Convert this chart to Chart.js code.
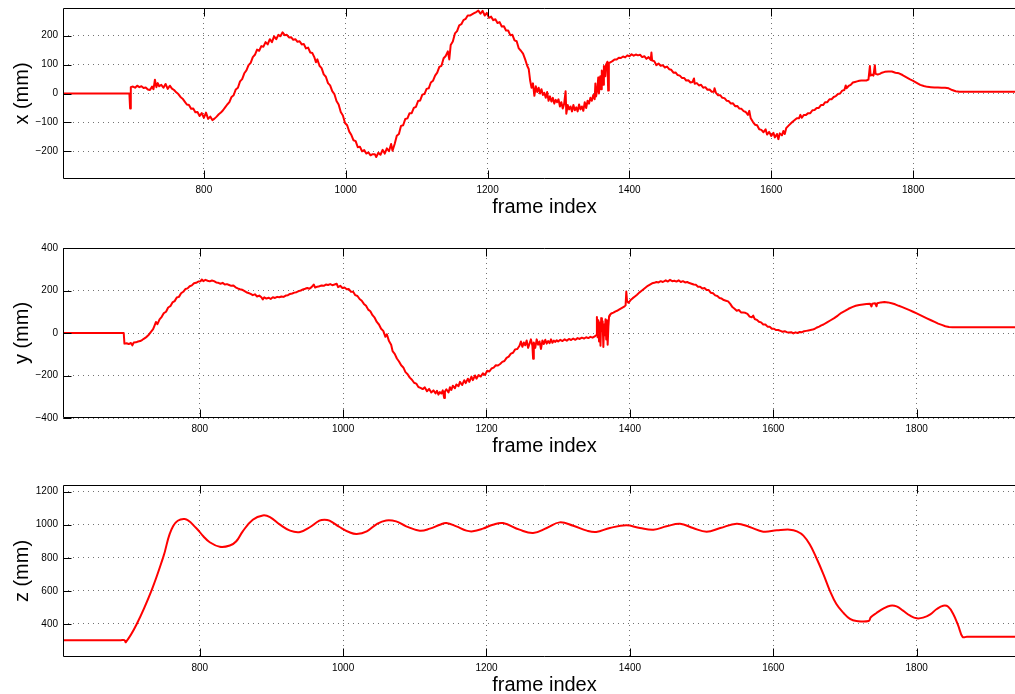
<!DOCTYPE html>
<html>
<head>
<meta charset="utf-8">
<script src="https://cdn.jsdelivr.net/npm/chart.js@4/dist/chart.umd.min.js"></script>
<style>
  html, body { margin: 0; padding: 0; background: #fff; overflow: hidden; width: 1015px; height: 694px; position: relative; }
  canvas { position: absolute; left: 0; }
</style>
</head>
<body>
<canvas id="panelX" width="1030" height="225" style="top:0px;width:1030px;height:225px"></canvas>
<canvas id="panelY" width="1030" height="224" style="top:240px;width:1030px;height:224px"></canvas>
<canvas id="panelZ" width="1030" height="220" style="top:477px;width:1030px;height:220px"></canvas>
<script>
// ---- tick labels ----
const frameTicks = [800, 1000, 1200, 1400, 1600, 1800];
const xTicks = [-200, -100, 0, 100, 200];
const yTicks = [-400, -200, 0, 200, 400];
const zTicks = [400, 600, 800, 1000, 1200];

// ---- x position (mm) per frame ----
const xFrames = [
  601, 695, 696, 697, 700, 703, 706, 709, 712, 715,
  718, 721, 724, 727, 729, 731, 733, 735, 737, 740,
  743, 746, 749, 752, 755, 758, 761, 764, 767, 770,
  773, 776, 779, 782, 785, 788, 791, 794, 797, 800,
  803, 806, 809, 812, 815, 818, 821, 824, 827, 830,
  833, 836, 839, 842, 845, 848, 851, 854, 857, 860,
  863, 866, 869, 872, 875, 878, 881, 884, 887, 890,
  893, 896, 899, 902, 905, 908, 911, 914, 917, 920,
  923, 926, 929, 932, 935, 938, 941, 944, 947, 950,
  953, 956, 958, 960, 963, 966, 969, 972, 975, 978,
  981, 984, 987, 990, 993, 996, 999, 1002, 1005, 1008,
  1011, 1014, 1017, 1020, 1023, 1026, 1029, 1032, 1035, 1038,
  1041, 1043, 1046, 1049, 1052, 1055, 1058, 1061, 1064, 1066,
  1069, 1072, 1075, 1078, 1081, 1084, 1087, 1090, 1093, 1096,
  1099, 1102, 1105, 1108, 1111, 1114, 1117, 1120, 1123, 1126,
  1129, 1132, 1135, 1138, 1141, 1144, 1146, 1148, 1151, 1154,
  1157, 1160, 1163, 1166, 1169, 1172, 1175, 1178, 1181, 1184,
  1187, 1190, 1193, 1196, 1199, 1202, 1205, 1208, 1211, 1214,
  1217, 1220, 1223, 1226, 1229, 1232, 1235, 1238, 1241, 1244,
  1247, 1250, 1253, 1256, 1258, 1260, 1262, 1264, 1266, 1268,
  1270, 1272, 1274, 1276, 1278, 1280, 1282, 1284, 1286, 1288,
  1290, 1292, 1294, 1296, 1298, 1300, 1302, 1304, 1306, 1308,
  1310, 1311, 1313, 1315, 1317, 1319, 1321, 1323, 1325, 1327,
  1329, 1331, 1333, 1335, 1337, 1339, 1341, 1343, 1345, 1347,
  1349, 1351, 1352, 1353, 1355, 1356, 1357, 1359, 1360, 1361,
  1363, 1364, 1366, 1367, 1369, 1370, 1371, 1373, 1376, 1379,
  1382, 1385, 1388, 1391, 1394, 1397, 1400, 1403, 1406, 1409,
  1412, 1415, 1418, 1421, 1424, 1427, 1430, 1431, 1432, 1435,
  1438, 1441, 1444, 1447, 1450, 1453, 1456, 1459, 1462, 1465,
  1468, 1471, 1474, 1477, 1480, 1483, 1486, 1489, 1491, 1492,
  1495, 1498, 1501, 1504, 1507, 1510, 1513, 1516, 1519, 1520,
  1522, 1525, 1528, 1531, 1534, 1537, 1540, 1543, 1546, 1549,
  1552, 1555, 1558, 1561, 1564, 1567, 1569, 1571, 1574, 1577,
  1580, 1583, 1586, 1589, 1592, 1594, 1597, 1600, 1603, 1605,
  1608, 1610, 1612, 1615, 1617, 1619, 1621, 1624, 1627, 1630,
  1633, 1636, 1639, 1641, 1643, 1646, 1649, 1652, 1655, 1658,
  1661, 1664, 1667, 1670, 1673, 1676, 1679, 1682, 1685, 1688,
  1691, 1694, 1697, 1700, 1703, 1705, 1706, 1709, 1712, 1715,
  1718, 1721, 1724, 1727, 1730, 1734, 1737, 1739, 1740, 1742,
  1744, 1746, 1747, 1750, 1753, 1756, 1760, 1765, 1770, 1775,
  1780, 1785, 1790, 1795, 1800, 1805, 1810, 1815, 1820, 1825,
  1830, 1835, 1840, 1845, 1850, 1855, 1860, 1865, 1960
];
const xValues = [
  0, 0, -52, 22, 24, 20, 27, 22, 25, 19,
  21, 14, 12, 24, 15, 48, 22, 36, 25, 30,
  20, 33, 16, 27, 17, 12, 4, -2, -12, -18,
  -28, -38, -40, -53, -52, -65, -64, -78, -68, -84,
  -66, -88, -80, -92, -87, -80, -72, -66, -58, -48,
  -38, -30, -12, -6, 14, 20, 42, 50, 70, 80,
  98, 106, 126, 134, 152, 148, 164, 162, 178, 170,
  188, 178, 198, 188, 203, 198, 212, 202, 203, 194,
  195, 186, 188, 179, 181, 170, 171, 156, 159, 142,
  140, 124, 108, 118, 96, 88, 66, 58, 36, 28,
  8, -2, -26, -38, -64, -76, -102, -110, -132, -144,
  -162, -165, -186, -184, -200, -196, -208, -204, -214, -210,
  -210, -220, -205, -212, -195, -208, -190, -200, -175, -198,
  -175, -146, -140, -112, -110, -88, -86, -68, -68, -50,
  -46, -26, -24, -4, -2, 16, 18, 38, 44, 62,
  72, 92, 96, 122, 130, 146, 118, 168, 180, 208,
  216, 236, 240, 254, 258, 270, 270, 274, 278, 282,
  287, 276, 286, 270, 279, 262, 266, 254, 257, 244,
  247, 232, 233, 218, 218, 202, 203, 184, 181, 156,
  148, 138, 118, 95, 85, 45, 20, 35, -8, 25,
  5, 20, 0, 15, -5, 2, -15, 5, -25, -10,
  -28, -15, -35, -22, -30, -20, -45, -30, -52, -35,
  8, -70, -40, -55, -45, -62, -40, -58, -48, -62,
  -38, -55, -45, -60, -30, -50, -25, -35, -15, -25,
  -5, -20, 35, -10, 20, 55, 0, 60, 15, 80,
  30, 95, 60, 100, 110, 10, 105, 108, 112, 118,
  118, 124, 123, 128, 125, 132, 129, 136, 131, 135,
  132, 134, 126, 129, 120, 126, 116, 142, 114, 112,
  98, 104, 96, 98, 90, 93, 84, 82, 72, 73,
  64, 62, 54, 54, 45, 46, 38, 40, 52, 34,
  36, 28, 30, 20, 22, 13, 14, 6, 6, 18,
  2, -6, -6, -15, -16, -25, -26, -35, -34, -44,
  -43, -52, -53, -61, -64, -74, -60, -86, -98, -108,
  -110, -124, -126, -134, -124, -142, -133, -147, -136, -152,
  -140, -158, -138, -145, -130, -140, -120, -112, -105, -98,
  -92, -86, -86, -74, -84, -74, -74, -68, -68, -58,
  -57, -50, -50, -40, -40, -30, -30, -20, -20, -12,
  -9, -2, 0, 10, 12, 28, 18, 26, 30, 38,
  40, 42, 44, 45, 45, 45, 48, 95, 62, 65,
  62, 98, 68, 66, 68, 72, 75, 76, 76, 72,
  70, 64, 57, 50, 44, 37, 30, 26, 23, 22,
  21, 21, 20, 20, 18, 12, 8, 6, 6
];

// ---- y position (mm) per frame ----
const yFrames = [
  609, 694, 695, 698, 701, 704, 706, 708, 711, 714,
  717, 720, 723, 726, 729, 732, 735, 737, 739, 741,
  744, 747, 750, 753, 756, 759, 762, 765, 768, 771,
  774, 777, 780, 783, 786, 789, 792, 795, 798, 801,
  803, 805, 808, 811, 814, 817, 820, 823, 826, 829,
  832, 835, 838, 841, 844, 847, 850, 853, 856, 859,
  862, 865, 868, 871, 874, 877, 880, 883, 886, 888,
  890, 893, 896, 899, 902, 905, 908, 911, 914, 917,
  920, 923, 926, 929, 932, 935, 938, 941, 944, 947,
  950, 953, 956, 959, 961, 964, 967, 970, 973, 976,
  979, 982, 985, 988, 991, 993, 996, 999, 1002, 1005,
  1008, 1011, 1014, 1017, 1020, 1023, 1026, 1029, 1032, 1035,
  1038, 1041, 1044, 1047, 1050, 1053, 1056, 1059, 1061, 1064,
  1067, 1069, 1072, 1075, 1078, 1081, 1084, 1087, 1090, 1093,
  1096, 1099, 1102, 1105, 1108, 1111, 1114, 1117, 1120, 1123,
  1126, 1129, 1131, 1133, 1135, 1137, 1139, 1141, 1142, 1144,
  1147, 1149, 1151, 1153, 1156, 1158, 1161, 1163, 1166, 1169,
  1171, 1174, 1176, 1179, 1181, 1184, 1186, 1189, 1192, 1195,
  1198, 1201, 1204, 1207, 1210, 1213, 1216,
  1219, 1222, 1225, 1228, 1231, 1234, 1237, 1240, 1243, 1246,
  1248, 1250, 1252, 1254, 1256, 1258, 1260, 1262, 1264, 1265,
  1266, 1268, 1270, 1272, 1274, 1276, 1278, 1280, 1282, 1284,
  1286, 1288, 1290, 1292, 1294, 1296, 1298, 1300, 1303, 1306,
  1309, 1312, 1315, 1318, 1321, 1324, 1327, 1330, 1333, 1336,
  1339, 1342, 1345, 1348, 1351, 1353, 1354, 1355, 1356, 1357,
  1358, 1359, 1360, 1361, 1362, 1363, 1364, 1365, 1366, 1367,
  1368, 1369, 1370, 1371, 1372, 1374, 1377, 1380, 1383, 1386,
  1389, 1392, 1394, 1395, 1396, 1398, 1401, 1404, 1407, 1410,
  1413, 1416, 1419, 1422, 1425, 1428,
  1431, 1434, 1437, 1440, 1443, 1446, 1450, 1453, 1456, 1459,
  1462, 1465, 1468, 1471, 1474, 1477, 1480, 1483, 1486, 1489,
  1492, 1495, 1498, 1501, 1504, 1507, 1510, 1513, 1516, 1519,
  1522, 1525, 1528, 1531, 1534, 1537, 1540, 1543, 1546, 1549,
  1552, 1555, 1558, 1561, 1564, 1567, 1570, 1572, 1574, 1577,
  1580, 1583, 1586, 1589, 1592, 1595, 1598, 1601, 1604, 1607,
  1610, 1613, 1616, 1619, 1622, 1625, 1628, 1631, 1634, 1637,
  1640, 1643, 1646, 1649, 1652, 1655, 1658, 1661, 1664, 1667,
  1670, 1675, 1680, 1685, 1690, 1695, 1700, 1705, 1710, 1715,
  1720, 1725, 1730, 1735, 1737, 1738, 1742, 1744, 1745, 1750,
  1755, 1760, 1765, 1770, 1775, 1780, 1785, 1790, 1795, 1800,
  1805, 1810, 1815, 1820, 1825, 1830, 1835, 1840, 1845, 1850,
  1953
];
const yValues = [
  0, 0, -50, -48, -52, -47, -58, -45, -44, -40,
  -38, -32, -25, -18, -8, 5, 18, 35, 52, 42,
  64, 76, 94, 100, 120, 126, 144, 150, 167, 170,
  187, 194, 207, 210, 220, 224, 234, 236, 242, 243,
  252, 244, 250, 246, 243, 247, 244, 238, 236, 232,
  236, 228, 230, 226, 222, 224, 215, 210, 206, 204,
  198, 192, 188, 184, 178, 182, 172, 176, 168, 158,
  168, 162, 166, 160, 168, 165, 170, 168, 172, 170,
  176, 178, 184, 186, 190, 192, 197, 200, 205, 208,
  212, 208, 216, 228, 214, 218, 220, 224, 222, 228,
  226, 230, 225, 228, 232, 216, 222, 212, 214, 206,
  207, 194, 194, 178, 174, 160, 152, 137, 128, 110,
  102, 84, 72, 52, 40, 20, 10, -18, -6, -38,
  -55, -85, -98, -120, -134, -152, -162, -184, -194, -210,
  -220, -234, -238, -254, -258, -264, -256, -274, -263, -280,
  -270, -284, -272, -290, -278, -285, -270, -306, -275, -265,
  -280, -255, -268, -248, -260, -242, -250, -230, -245, -222,
  -236, -215, -230, -205, -222, -200, -215, -198, -205, -190,
  -198, -178, -181, -167, -163, -152, -153,
  -146, -136, -132, -117, -111, -97, -93, -77, -75, -60,
  -40, -65, -45, -58, -35, -70, -50, -30, -60, -121,
  -45, -70, -30, -55, -40, -75, -35, -52, -32, -50,
  -38, -48, -30, -46, -36, -42, -34, -40, -32, -38,
  -30, -36, -28, -33, -26, -32, -24, -28, -22, -26,
  -20, -24, -18, -22, -16, -10, 75, -20, 60, -40,
  50, -60, 70, 10, 55, -66, 40, -10, 65, -30,
  60, -55, 30, 80, 85, 92, 96, 102, 106, 112,
  118, 124, 130, 195, 150, 142, 155, 164, 172, 180,
  190, 198, 206, 214, 222, 228,
  234, 236, 240, 238, 244, 240, 248, 242, 250, 244,
  246, 242, 248, 240, 244, 238, 240, 235, 232, 228,
  227, 218, 218, 209, 212, 202, 202, 189, 187, 177,
  174, 165, 162, 155, 152, 149, 137, 122, 114, 105,
  108, 97, 96, 95, 90, 77, 74, 82, 66, 62,
  53, 50, 40, 40, 30, 30, 20, 20, 14, 14,
  10, 6, 8, 4, 2, 4, -2, 3, 0, 5,
  4, 8, 10, 12, 14, 16, 20, 26, 30, 36,
  40, 50, 60, 70, 82, 95, 104, 114, 122, 128,
  132, 134, 136, 138, 125, 138, 140, 126, 140, 144,
  146, 144, 140, 135, 128, 122, 115, 108, 100, 92,
  84, 76, 68, 60, 52, 44, 38, 32, 28, 27,
  27
];

// ---- z position (mm) per frame ----
const zFrames = [
  609, 690, 695, 697, 712, 733, 749, 763, 779, 795,
  805, 814, 828, 842, 851, 860, 874, 888, 898, 912,
  926, 940, 954, 967, 974, 981, 995, 1009, 1019, 1033,
  1047, 1060, 1074, 1088, 1107, 1121, 1135, 1144, 1158, 1172,
  1181, 1195, 1209, 1223, 1246, 1265, 1284, 1302, 1321, 1340,
  1353, 1372, 1395, 1414, 1433, 1451, 1470, 1488, 1507, 1526,
  1549, 1567, 1586, 1605, 1623, 1633, 1642, 1651, 1660, 1670,
  1679, 1688, 1698, 1707, 1716, 1733, 1736, 1744, 1754, 1763,
  1772, 1781, 1791, 1800, 1809, 1819, 1828, 1837, 1844, 1851,
  1858, 1864, 1870, 1953
];
const zValues = [
  302, 302, 302, 290, 398, 605, 802, 992, 1034, 980,
  930, 894, 866, 874, 900, 960, 1030, 1056, 1046, 1000,
  964, 956, 986, 1024, 1030, 1024, 986, 954, 944, 960,
  1004, 1026, 1020, 990, 964, 976, 1000, 1010, 990, 964,
  960, 976, 1000, 1010, 970, 950, 980, 1014, 994, 964,
  956, 980, 996, 980, 970, 990, 1006, 980, 958, 980,
  1006, 986, 958, 966, 970, 960, 934, 880, 800, 700,
  600, 520, 466, 430, 418, 418, 440, 466, 494, 510,
  506, 480, 450, 434, 438, 458, 490, 510, 504, 460,
  390, 322, 322, 322
];

const FONT = 'Liberation Sans, Arial, Helvetica, sans-serif';
const minusFmt = v => (v < 0 ? '\u2212' + Math.abs(v) : String(v));

// Axes box with inward tick marks (left, top and bottom sides)
const axesBox = {
  id: 'axesBox',
  afterDraw(chart) {
    const { ctx, chartArea: a, scales } = chart;
    const L = Math.round(a.left) + 0.5;
    const T = Math.round(a.top) + 0.5;
    const B = Math.round(a.bottom) - 0.5;
    const tick = 8;
    ctx.save();
    ctx.strokeStyle = '#000';
    ctx.lineWidth = 1;
    ctx.beginPath();
    ctx.moveTo(a.right, T); ctx.lineTo(L, T); ctx.lineTo(L, B); ctx.lineTo(a.right, B);
    scales.x.ticks.forEach((t, i) => {
      const p = Math.round(scales.x.getPixelForTick(i)) + 0.5;
      ctx.moveTo(p, B); ctx.lineTo(p, B - tick);
      ctx.moveTo(p, T); ctx.lineTo(p, T + tick);
    });
    scales.y.ticks.forEach((t, i) => {
      const p = Math.round(scales.y.getPixelForTick(i)) + 0.5;
      ctx.moveTo(L, p); ctx.lineTo(L + tick, p);
    });
    ctx.stroke();
    ctx.restore();
  }
};

function makePanel(id, frames, values, frameRange, valueRange, valueTicks, valueTitle, padBottom, smooth) {
  const points = frames.map((f, i) => ({ x: f, y: values[i] }));
  const gridStyle = { color: 'rgba(0,0,0,0.55)', lineWidth: 1, drawTicks: false };
  return new Chart(document.getElementById(id), {
    type: 'line',
    data: {
      datasets: [{
        data: points,
        borderColor: '#ff0000',
        borderWidth: 2,
        pointRadius: 0,
        fill: false,
        tension: smooth ? 0.4 : 0,
        borderJoinStyle: 'round'
      }]
    },
    options: {
      responsive: false,
      animation: false,
      devicePixelRatio: 1,
      events: [],
      layout: { padding: { top: 8, right: 4, bottom: padBottom, left: 0 } },
      plugins: { legend: { display: false }, tooltip: { enabled: false } },
      scales: {
        x: {
          type: 'linear',
          bounds: 'data',
          min: frameRange[0],
          max: frameRange[1],
          afterBuildTicks: s => { s.ticks = frameTicks.map(v => ({ value: v })); },
          afterFit: s => { s.height = 40; s.paddingLeft = 0; s.paddingRight = 0; },
          grid: gridStyle,
          border: { display: false, dash: [1, 4] },
          ticks: { autoSkip: false, maxRotation: 0, padding: 5, color: '#000',
                   font: { family: FONT, size: 10 }, callback: v => String(v) },
          title: { display: true, text: 'frame index', color: '#000',
                   font: { family: FONT, size: 20, lineHeight: 1.2 }, padding: { top: 0, bottom: 0 } }
        },
        y: {
          type: 'linear',
          bounds: 'data',
          min: valueRange[0],
          max: valueRange[1],
          afterBuildTicks: s => { s.ticks = valueTicks.map(v => ({ value: v })); },
          afterFit: s => { s.width = 63; s.paddingTop = 0; s.paddingBottom = 0; },
          grid: gridStyle,
          border: { display: false, dash: [1, 4] },
          ticks: { autoSkip: false, padding: 5, color: '#000',
                   font: { family: FONT, size: 10 }, callback: minusFmt },
          title: { display: true, text: valueTitle, color: '#000',
                   font: { family: FONT, size: 20, lineHeight: 1.2 }, padding: { top: 10, bottom: 0 } }
        }
      }
    },
    plugins: [axesBox]
  });
}

makePanel('panelX', xFrames, xValues, [601.4, 1959.1], [-296, 296], xTicks, 'x (mm)', 6, false);
makePanel('panelY', yFrames, yValues, [609.3, 1952.5], [-400, 400], yTicks, 'y (mm)', 6, false);
makePanel('panelZ', zFrames, zValues, [609.3, 1952.5], [200, 1240], zTicks, 'z (mm)', 0, true);
</script>
</body>
</html>
